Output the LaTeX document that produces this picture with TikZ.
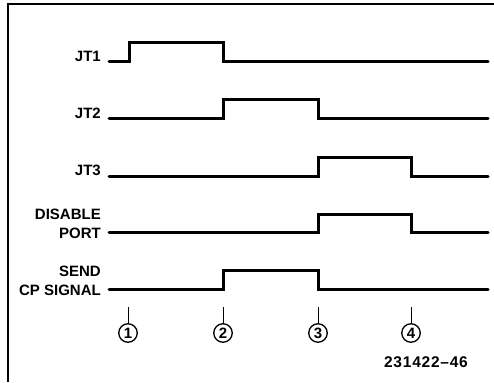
\documentclass[tikz,border=0pt]{standalone}
\usepackage{fontspec}
\setmainfont{Liberation Sans}
\begin{document}
\begin{tikzpicture}[x=1pt,y=-1pt,
  wave/.style={line width=3pt,line join=miter,line cap=round},
  sig/.style={anchor=east,font=\fontsize{15}{18.5}\selectfont\bfseries,inner sep=0pt,align=right},
  tmark/.style={draw,circle,line width=1.3pt,minimum size=18.5pt,inner sep=0pt,font=\fontsize{15}{15}\selectfont\bfseries},
  tickln/.style={line width=1pt},
  frame/.style={line width=1.4pt}]
\useasboundingbox (0,0) rectangle (494,382);
\draw[frame] (8,382) -- (8,4) -- (494,4);
% labels
\node[sig] (jt1) at (101,56) {JT1};
\node[sig] (jt2) at (101,113) {JT2};
\node[sig] (jt3) at (101,170) {JT3};
\node[sig] (dis) at (101,224) {DISABLE\\PORT};
\node[sig] (snd) at (101,281) {SEND\\CP SIGNAL};
% waveforms
\draw[wave] (109,62) -- (129,62) -- (129,43) -- (223,43) -- (223,62) -- (488,62);
\draw[wave] (109,119) -- (223,119) -- (223,100) -- (318,100) -- (318,119) -- (488,119);
\draw[wave] (109,176) -- (318,176) -- (318,157) -- (411,157) -- (411,176) -- (488,176);
\draw[wave] (109,232) -- (318,232) -- (318,214) -- (411,214) -- (411,232) -- (488,232);
\draw[wave] (109,289) -- (223,289) -- (223,270) -- (318,270) -- (318,289) -- (488,289);
% time markers
\node[tmark] (m1) at (128,333) {1};
\node[tmark] (m2) at (223,333) {2};
\node[tmark] (m3) at (318,333) {3};
\node[tmark] (m4) at (411,333) {4};
\coordinate (t1) at (128,307);
\coordinate (t2) at (223,307);
\coordinate (t3) at (318,307);
\coordinate (t4) at (411,307);
\draw[tickln] (t1) -- (m1.north);
\draw[tickln] (t2) -- (m2.north);
\draw[tickln] (t3) -- (m3.north);
\draw[tickln] (t4) -- (m4.north);
\node[font=\fontsize{15.5}{15.5}\selectfont\bfseries\addfontfeature{LetterSpace=5},inner sep=0pt] (fig) at (426,362) {231422--46};
\end{tikzpicture}
\end{document}
